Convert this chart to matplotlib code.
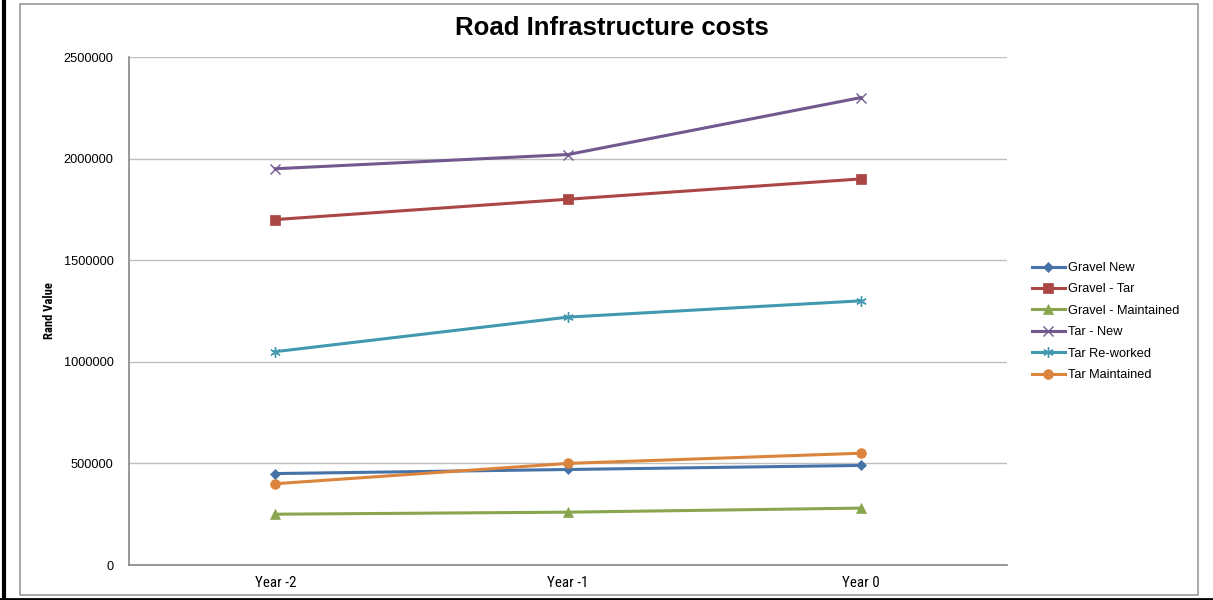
import matplotlib
matplotlib.use("Agg")
import matplotlib.pyplot as plt
from matplotlib import font_manager
from matplotlib.patches import Rectangle
from matplotlib.lines import Line2D

categories = ["Year -2", "Year -1", "Year 0"]
series_names = ["Gravel New", "Gravel - Tar", "Gravel - Maintained",
                "Tar - New", "Tar Re-worked", "Tar Maintained"]
gravel_new = [450000, 470000, 490000]
gravel_tar = [1700000, 1800000, 1900000]
gravel_maintained = [250000, 260000, 280000]
tar_new = [1950000, 2020000, 2300000]
tar_reworked = [1050000, 1220000, 1300000]
tar_maintained = [400000, 500000, 550000]
y_ticks = [0, 500000, 1000000, 1500000, 2000000, 2500000]

colors = ["#4572A7", "#AA4643", "#89A54E", "#71588F", "#4198AF", "#DB843D"]
markers = ["D", "s", "^", "x", (6, 2, 0), "o"]
msizes = [5, 7, 7, 7.5, 7.5, 7]

plt.rcParams["font.family"] = ["Liberation Sans", "DejaVu Sans"]

# pick a condensed face for the axis labels if one is installed
installed = {f.name for f in font_manager.fontManager.ttflist}
narrow_face = None
for cand in ["Liberation Sans Narrow", "Arial Narrow", "DejaVu Sans Condensed",
             "Roboto Condensed", "Open Sans Condensed"]:
    if cand in installed:
        narrow_face = cand
        break
if narrow_face:
    narrow = [narrow_face, "Liberation Sans", "DejaVu Sans"]
    xfs, ylfs = 10.8, 9.0
else:
    narrow = ["Liberation Sans", "DejaVu Sans"]
    xfs, ylfs = 9.2, 8.5

fig = plt.figure(figsize=(12.13, 6.0), dpi=100)

# outer frame: black on the left and bottom, grey chart border inside
fig.add_artist(Line2D([3.5 / 1213, 3.5 / 1213], [0, 1], color="black", lw=3,
                      transform=fig.transFigure))
fig.add_artist(Line2D([0, 1], [1.5 / 600, 1.5 / 600], color="black", lw=2,
                      transform=fig.transFigure))
fig.add_artist(Rectangle((20 / 1213, 5 / 600), (1198 - 20) / 1213, (596 - 5) / 600,
                         transform=fig.transFigure, fill=False,
                         edgecolor="#9A9A9A", lw=1.2))

ax = fig.add_axes([129 / 1213, 35 / 600, (1007 - 129) / 1213, (565 - 57) / 600])

data = [gravel_new, gravel_tar, gravel_maintained, tar_new, tar_reworked, tar_maintained]
x = list(range(len(categories)))
for name, vals, c, m, ms in zip(series_names, data, colors, markers, msizes):
    ax.plot(x, vals, color=c, lw=2.2, marker=m, markersize=ms,
            markerfacecolor=c, markeredgecolor=c,
            markeredgewidth=1.0 if m in ("x", (6, 2, 0)) else 0.5,
            label=name, zorder=3)

ax.set_xlim(-0.5, len(categories) - 0.5)
ax.set_ylim(0, 2500000)
ax.set_yticks(y_ticks)
ax.set_yticklabels([str(v) for v in y_ticks], fontsize=9.2)
ax.set_xticks(x)
ax.set_xticklabels(categories, fontsize=xfs, family=narrow)
ax.tick_params(axis="y", length=0, pad=11)
ax.tick_params(axis="x", length=0, pad=8)
ax.yaxis.grid(True, color="#BEBEBE", lw=1)
ax.set_axisbelow(True)
for s in ("top", "right"):
    ax.spines[s].set_visible(False)
for s in ("left", "bottom"):
    ax.spines[s].set_color("#868686")
    ax.spines[s].set_linewidth(1.2)

ax.set_ylabel("Rand Value", fontsize=ylfs, fontweight="bold", family=narrow)
ax.yaxis.set_label_coords((56 - 129) / 878, 0.5)

fig.text(612 / 1213, 1 - 28 / 600, "Road Infrastructure costs", ha="center", va="center",
         fontsize=18.5, fontweight="bold")

leg = ax.legend(loc="upper left", bbox_to_anchor=(1032 / 1213, 1 - 262 / 600),
                bbox_transform=fig.transFigure, frameon=False,
                fontsize=9.2, handlelength=2.55, handletextpad=0.3, labelspacing=0.74,
                borderaxespad=0, borderpad=0)

fig.savefig("out.png", dpi=100)
